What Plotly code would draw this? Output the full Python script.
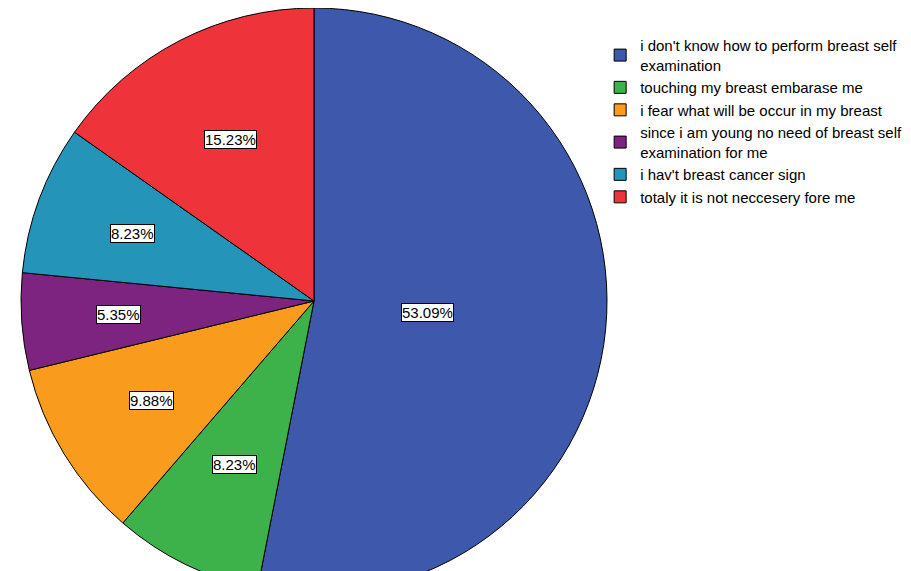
import math
import plotly.graph_objects as go

labels = [
    "i don't know how to perform breast self<br>examination",
    "touching my breast embarase me",
    "i fear what will be occur in my breast",
    "since i am young no need of breast self<br>examination for me",
    "i hav't breast cancer sign",
    "totaly it is not neccesery fore me",
]
values = [53.09, 8.23, 9.88, 5.35, 8.23, 15.23]
colors = ["#3E58AC", "#3DB14A", "#F99B1C", "#7D2480", "#2495B9", "#EE343A"]

# label placement style (fraction of radius from centre)
label_r = [0.39, 0.62, 0.65, 0.67, 0.66, 0.62]

FONT = "Liberation Sans, Arial, sans-serif"
W, H = 911, 586
dom_x = [13 / W, 599 / W]
dom_y = [0.0, 1.0]

fig = go.Figure(go.Pie(
    labels=labels,
    values=values,
    sort=False,
    direction="clockwise",
    rotation=0,
    marker=dict(colors=colors, line=dict(color="#000000", width=1)),
    textinfo="none",
    hoverinfo="label+percent",
    domain=dict(x=dom_x, y=dom_y),
))

# geometry of pie in pixels
cx = (dom_x[0] + dom_x[1]) / 2 * W
cy = (1 - (dom_y[0] + dom_y[1]) / 2) * H
R = min((dom_x[1] - dom_x[0]) * W, (dom_y[1] - dom_y[0]) * H) / 2

total = sum(values)
cum = 0.0
for i, v in enumerate(values):
    mid = (cum + v / 2) / total * 360
    cum += v
    th = math.radians(mid)
    r = label_r[i] * R
    px = cx + r * math.sin(th)
    py = cy - r * math.cos(th)
    fig.add_annotation(
        x=px / W, y=1 - py / H, xref="paper", yref="paper",
        xanchor="center", yanchor="middle",
        text=f"{v:.2f}%", showarrow=False,
        font=dict(family=FONT, size=15, color="#000000"),
        bgcolor="#FFFFFF", bordercolor="#000000", borderwidth=1, borderpad=0,
    )

fig.update_layout(
    width=W, height=H,
    margin=dict(l=0, r=0, t=0, b=0),
    paper_bgcolor="#FFFFFF",
    plot_bgcolor="#FFFFFF",
    font=dict(family=FONT, size=15, color="#000000"),
    legend=dict(
        x=0.650, y=0.964, xanchor="left", yanchor="top",
        font=dict(family=FONT, size=15, color="#000000"),
        itemwidth=30, tracegroupgap=0,
        bgcolor="rgba(0,0,0,0)",
    ),
    showlegend=True,
)

fig.write_html("out.html")
